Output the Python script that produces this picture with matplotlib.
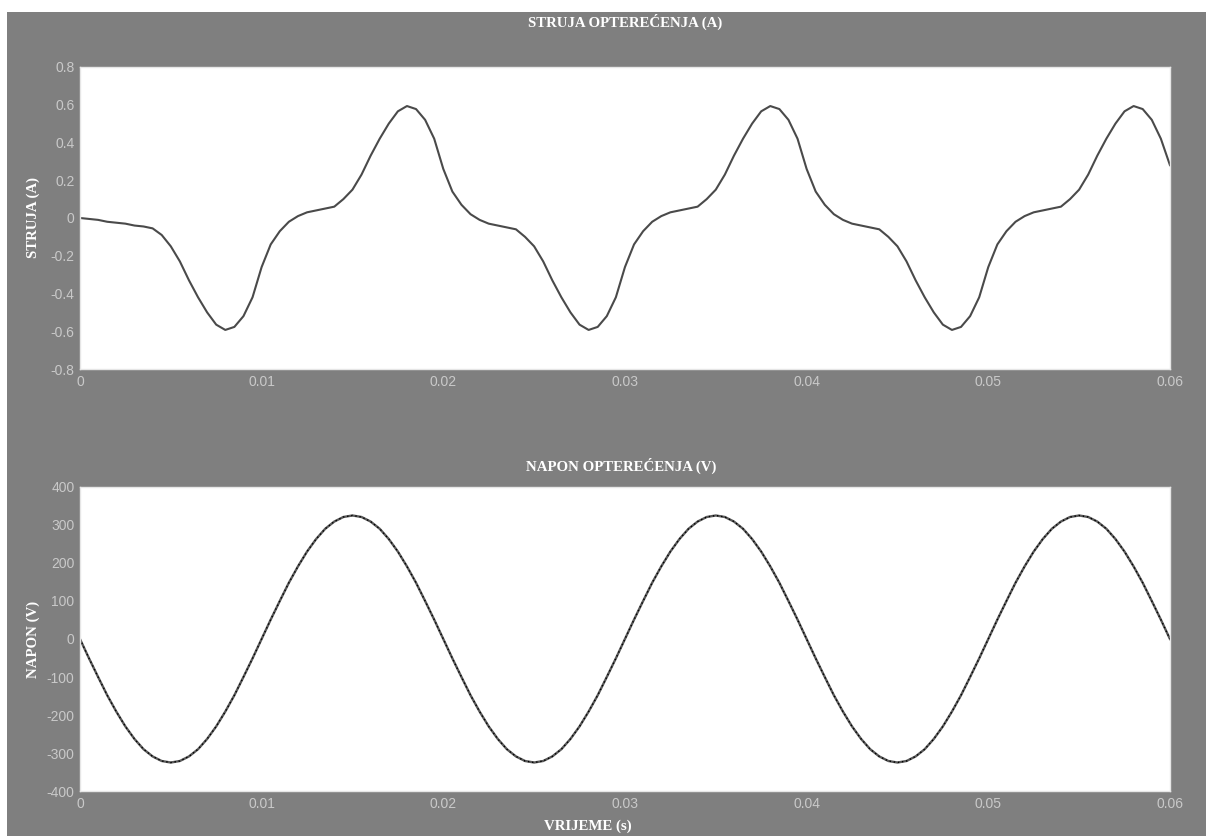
import matplotlib.pyplot as plt
import numpy as np
from matplotlib.patches import Rectangle

# Time axis (s), one sample every 0.5 ms
t = np.linspace(0.0, 0.06, 121)

# Load current (A)
struja = [
    0.00, -0.005, -0.01, -0.02, -0.025, -0.03, -0.04, -0.045, -0.055, -0.09,
    -0.15, -0.23, -0.33, -0.42, -0.50, -0.565, -0.593, -0.577, -0.52, -0.42,
    -0.26, -0.14, -0.07, -0.02, 0.01, 0.03, 0.04, 0.05, 0.06, 0.10,
    0.15, 0.23, 0.33, 0.42, 0.50, 0.565, 0.593, 0.577, 0.52, 0.42,
    0.26, 0.14, 0.07, 0.02, -0.01, -0.03, -0.04, -0.05, -0.06, -0.10,
    -0.15, -0.23, -0.33, -0.42, -0.50, -0.565, -0.593, -0.577, -0.52, -0.42,
    -0.26, -0.14, -0.07, -0.02, 0.01, 0.03, 0.04, 0.05, 0.06, 0.10,
    0.15, 0.23, 0.33, 0.42, 0.50, 0.565, 0.593, 0.577, 0.52, 0.42,
    0.26, 0.14, 0.07, 0.02, -0.01, -0.03, -0.04, -0.05, -0.06, -0.10,
    -0.15, -0.23, -0.33, -0.42, -0.50, -0.565, -0.593, -0.577, -0.52, -0.42,
    -0.26, -0.14, -0.07, -0.02, 0.01, 0.03, 0.04, 0.05, 0.06, 0.10,
    0.15, 0.23, 0.33, 0.42, 0.50, 0.565, 0.593, 0.577, 0.52, 0.42,
    0.28,
]

# Load voltage (V)
napon = [
    0, -51, -100, -148, -191, -230, -263, -290, -309, -321,
    -325, -321, -309, -290, -263, -230, -191, -148, -100, -51,
    0, 51, 100, 148, 191, 230, 263, 290, 309, 321,
    325, 321, 309, 290, 263, 230, 191, 148, 100, 51,
    0, -51, -100, -148, -191, -230, -263, -290, -309, -321,
    -325, -321, -309, -290, -263, -230, -191, -148, -100, -51,
    0, 51, 100, 148, 191, 230, 263, 290, 309, 321,
    325, 321, 309, 290, 263, 230, 191, 148, 100, 51,
    0, -51, -100, -148, -191, -230, -263, -290, -309, -321,
    -325, -321, -309, -290, -263, -230, -191, -148, -100, -51,
    0, 51, 100, 148, 191, 230, 263, 290, 309, 321,
    325, 321, 309, 290, 263, 230, 191, 148, 100, 51,
    0,
]

x_ticks = [0, 0.01, 0.02, 0.03, 0.04, 0.05, 0.06]
x_labels = ["0", "0.01", "0.02", "0.03", "0.04", "0.05", "0.06"]
i_ticks = [-0.8, -0.6, -0.4, -0.2, 0, 0.2, 0.4, 0.6, 0.8]
i_labels = ["-0.8", "-0.6", "-0.4", "-0.2", "0", "0.2", "0.4", "0.6", "0.8"]
u_ticks = [-400, -300, -200, -100, 0, 100, 200, 300, 400]
u_labels = ["-400", "-300", "-200", "-100", "0", "100", "200", "300", "400"]

BG = "#7f7f7f"
TICK_C = "#c9c9c9"
SERIF = "Liberation Serif"
SANS = "Liberation Sans"
FS = 10.7

fig = plt.figure(figsize=(12.06, 8.36), dpi=100, facecolor="white")
# gray panel, leaving the thin white strip at top and left
fig.patches.append(Rectangle((7 / 1206, 0), 1 - 7 / 1206, 1 - 12 / 836,
                             transform=fig.transFigure, facecolor=BG,
                             edgecolor="none", zorder=-10))

ax1 = fig.add_axes([0.0663, 0.5586, 0.9038, 0.3613])
ax2 = fig.add_axes([0.0663, 0.0538, 0.9038, 0.3637])


def style_axes(ax, yticks, ylabels, ylim):
    ax.set_facecolor("white")
    ax.set_xlim(0, 0.06)
    ax.set_ylim(*ylim)
    ax.set_xticks(x_ticks)
    ax.set_xticklabels(x_labels)
    ax.set_yticks(yticks)
    ax.set_yticklabels(ylabels)
    ax.tick_params(length=0, pad=4, labelsize=10, labelcolor=TICK_C)
    for lab in ax.get_xticklabels() + ax.get_yticklabels():
        lab.set_family(SANS)
    for sp in ax.spines.values():
        sp.set_color("#e6e6e6")
        sp.set_linewidth(1.0)


ax1.plot(t, struja, color="#4a4a4a", lw=1.5)
style_axes(ax1, i_ticks, i_labels, (-0.8, 0.8))

ax2.plot(t, napon, color="#5a5a5a", lw=1.7)
ax2.plot(t, napon, color="black", lw=1.0, ls=(0, (1, 2)))
style_axes(ax2, u_ticks, u_labels, (-400, 400))

fig.text(625 / 1206, 1 - 22 / 836, "STRUJA OPTEREĆENJA (A)", ha="center",
         va="center", color="white", fontsize=FS, fontweight="bold",
         family=SERIF)
fig.text(621 / 1206, 1 - 466 / 836, "NAPON OPTEREĆENJA (V)", ha="center",
         va="center", color="white", fontsize=FS, fontweight="bold",
         family=SERIF)
fig.text(33 / 1206, 1 - 218 / 836, "STRUJA (A)", ha="center", va="center",
         rotation=90, color="white", fontsize=FS, fontweight="bold",
         family=SERIF)
fig.text(33 / 1206, 1 - 639 / 836, "NAPON (V)", ha="center", va="center",
         rotation=90, color="white", fontsize=FS, fontweight="bold",
         family=SERIF)
fig.text(588 / 1206, 1 - 826 / 836, "VRIJEME (s)", ha="center", va="center",
         color="white", fontsize=FS, fontweight="bold", family=SERIF)

fig.savefig("out.png", dpi=100, facecolor=fig.get_facecolor())
